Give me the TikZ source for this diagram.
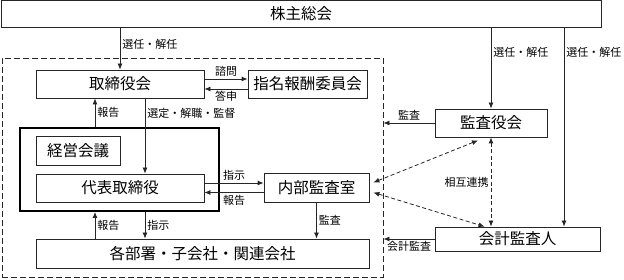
\documentclass[tikz,border=0pt]{standalone}
\usepackage{fontspec}
\setmainfont{Noto Sans CJK JP}
\usetikzlibrary{positioning,calc,arrows.meta}

\tikzset{
  orgbox/.style={draw=black!85, line width=0.8pt, inner sep=0pt, minimum height=28pt, font=\fontsize{15.5}{16}\selectfont},
  tag/.style={font=\fontsize{11}{11}\selectfont, inner sep=2pt},
  link/.style={draw=black!85, line width=0.8pt, ->, >={Latex[length=6pt,width=5pt]}},
  coop/.style={draw=black!85, line width=0.8pt, dash pattern=on 4pt off 2.5pt, <->, >={Latex[length=6pt,width=5pt]}}
}

\begin{document}
\begin{tikzpicture}[x=1pt, y=-1pt]
  \useasboundingbox (0,0) rectangle (624,280);

  % Shareholders and company frame
  \node[orgbox, minimum width=600pt, minimum height=27pt] (holders) at (301,14) {株主総会};
  \node[draw=black!85, line width=0.8pt, dash pattern=on 6pt off 3pt, minimum width=381pt, minimum height=219pt] (company) at (192.5,167.5) {};

  % Boxes inside the company
  \node[orgbox, minimum width=168pt] (board) at (120,84) {取締役会};
  \node[orgbox, minimum width=119pt] (nomination) at (307.5,84) {指名報酬委員会};
  \node[draw, line width=2pt, minimum width=199pt, minimum height=83pt] (execs) at (119.5,169.5) {};
  \node[orgbox, minimum width=84pt, minimum height=29pt] (mgmt) at (78,150.5) {経営会議};
  \node[orgbox, minimum width=168pt] (ceo) at (120,188) {代表取締役};
  \node[orgbox, minimum width=105pt, minimum height=29pt] (audit) at (316.5,187.5) {内部監査室};
  \node[orgbox, minimum width=333pt, minimum height=29pt] (units) at (202.5,253.5) {各部署・子会社・関連会社};

  % Boxes outside
  \node[orgbox, minimum width=112pt] (kansayaku) at (491,123) {監査役会};
  \node[orgbox, minimum width=165pt, minimum height=24pt] (accountant) at (517.5,239) {会計監査人};
  \coordinate (acctTop) at ([xshift=46.5pt]accountant.north);

  % Appointment from shareholders
  \draw[link] (board |- holders.south) -- (board.north) node[tag, right, pos=0.4] {選任・解任};
  \draw[link] (kansayaku |- holders.south) -- (kansayaku.north) node[tag, right, pos=0.3] {選任・解任};
  \draw[link] (acctTop |- holders.south) -- (acctTop) node[tag, right, pos=0.125] {選任・解任};

  % Board and committee
  \draw[link] ([yshift=5pt]board.east) -- ([yshift=5pt]board.east -| nomination.west) node[tag, above, midway] {諮問};
  \draw[link] ([yshift=-5pt]nomination.west) -- ([yshift=-5pt]nomination.west -| board.east) node[tag, below, midway] {答申};
  \draw[link] ([xshift=25pt]board.south) -- ([xshift=25pt]board.south |- ceo.north) node[tag, right, pos=0.2] {選定・解職・監督};
  \draw[link] ([xshift=-25pt]board.south |- execs.north) -- ([xshift=-25pt]board.south) node[tag, right, midway] {報告};

  % Executives and units
  \draw[link] ([xshift=-25pt]ceo.south |- units.north) -- ([xshift=-25pt]ceo.south |- execs.south) node[tag, right, midway] {報告};
  \draw[link] ([xshift=25pt]ceo.south |- execs.south) -- ([xshift=25pt]ceo.south |- units.north) node[tag, right, midway] {指示};

  % Internal audit
  \draw[link] ([yshift=5pt]ceo.east) -- ([yshift=5pt]ceo.east -| audit.west) node[tag, above, midway] {指示};
  \draw[link] ([yshift=-5pt]audit.west) -- ([yshift=-5pt]audit.west -| ceo.east) node[tag, below, midway] {報告};
  \draw[link] (audit.south) -- (audit.south |- units.north) node[tag, right, midway] {監査};

  % Audits of the company
  \draw[link] (kansayaku.west) -- (kansayaku.west -| company.east) node[tag, above, midway] {監査};
  \draw[link] (accountant.west) -- (accountant.west -| company.east) node[tag, below, midway] {会計監査};

  % Mutual cooperation
  \draw[coop] ([xshift=4pt, yshift=5pt]audit.east) -- ([xshift=-13pt, yshift=-3pt]kansayaku.south);
  \draw[coop] ([xshift=4pt, yshift=-5pt]audit.east) -- ([xshift=-33pt]accountant.north);
  \draw[coop] (kansayaku.south) -- (kansayaku.south |- accountant.north) node[tag, left, midway] {相互連携};
\end{tikzpicture}
\end{document}
